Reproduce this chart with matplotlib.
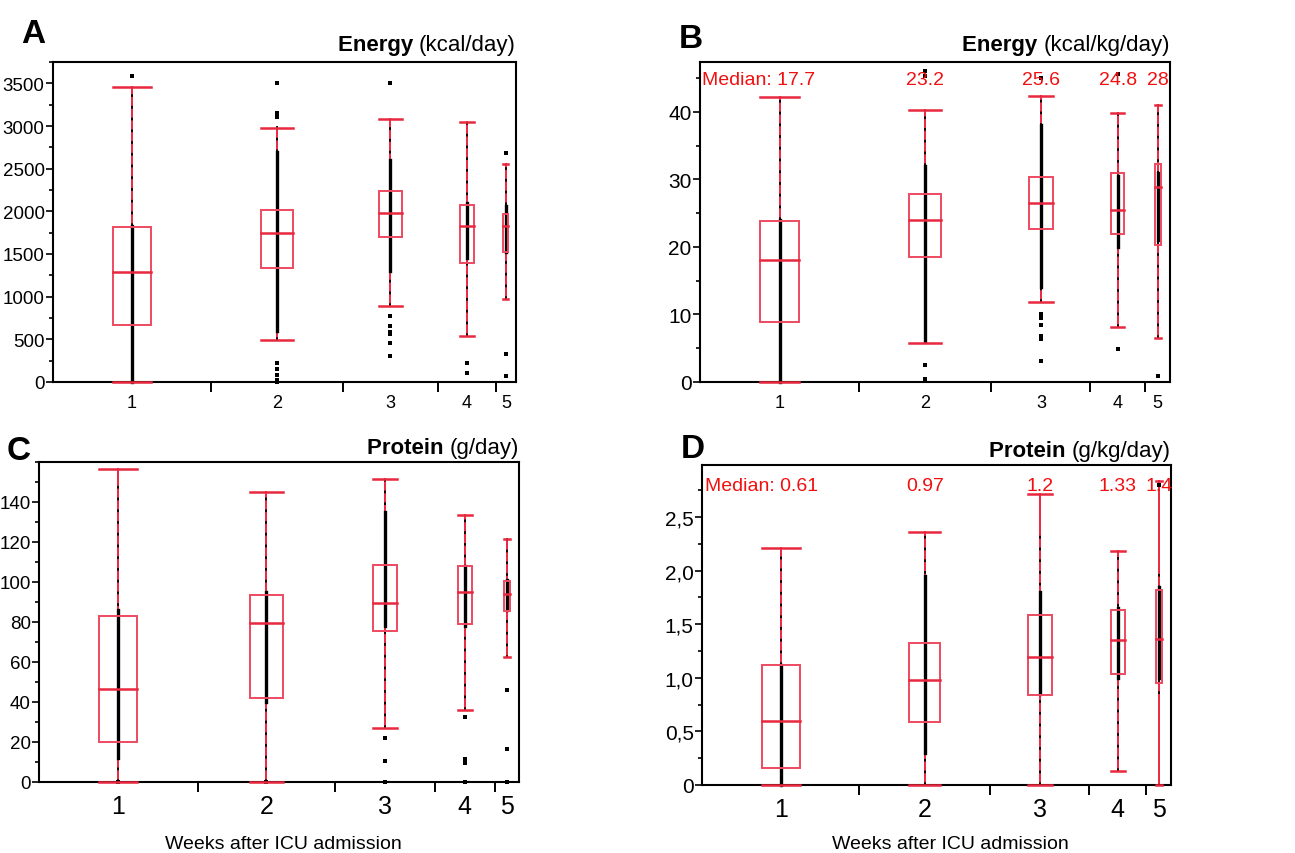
import numpy as np
import matplotlib
matplotlib.use("Agg")
import matplotlib.pyplot as plt
from matplotlib.patches import Rectangle
from matplotlib.ticker import MultipleLocator, FixedLocator

plt.rcParams['font.family'] = ['Liberation Sans', 'DejaVu Sans']

RED = '#E8283F'
BOXRED = '#EE4A60'
TXTRED = '#F01010'

weeks = ['1', '2', '3', '4', '5']

# A: energy, kcal/day
a_n = [163, 137, 98, 60, 21]
a_q1 = [668, 1336, 1695, 1398, 1523]
a_med = [1289, 1742, 1980, 1828, 1828]
a_q3 = [1820, 2012, 2238, 2070, 1965]
a_lo = [0, 492, 891, 539, 969]
a_hi = [3453, 2977, 3078, 3047, 2551]
a_dense = [(0, 1830), (600, 2700), (1300, 2600), (1450, 2100), (1520, 2060)]
a_sparse = [(1830, 3460), (490, 3000), (891, 3080), (540, 3047), (969, 2551)]
a_pts = [[3590], [3500, 3150, 3100, 227, 150, 80, 20, 0],
         [3500, 773, 656, 590, 560, 461, 305], [227, 109], [2680, 324, 70]]

# B: energy, kcal/kg/day
b_n = [154, 128, 96, 53, 24]
b_q1 = [8.9, 18.5, 22.7, 21.9, 20.3]
b_med = [18.1, 24.0, 26.5, 25.5, 28.9]
b_q3 = [23.9, 27.8, 30.4, 31.0, 32.3]
b_lo = [0, 5.8, 11.9, 8.2, 6.5]
b_hi = [42.2, 40.3, 42.4, 39.8, 41.0]
b_dense = [(0, 24), (6, 32), (14, 38), (20, 30.5), (21, 31)]
b_sparse = [(24, 42.2), (32, 40.3), (11.9, 42.4), (8.2, 39.8), (6.5, 41.0)]
b_pts = [[], [46.0, 45.4, 2.5, 0.4], [45.0, 10.0, 9.5, 8.5, 6.8, 6.3, 3.1],
         [45.6, 4.9], [0.9]]
b_lab = ['Median: 17.7', '23.2', '25.6', '24.8', '28']

# C: protein, g/day
c_n = [158, 137, 99, 60, 24]
c_q1 = [19.8, 41.9, 75.6, 78.9, 85.4]
c_med = [46.5, 79.6, 89.5, 95.0, 94.0]
c_q3 = [82.9, 93.5, 108.6, 107.8, 100.5]
c_lo = [0, 0, 27.1, 36.2, 62.4]
c_hi = [156.6, 144.8, 151.6, 133.7, 121.7]
c_dense = [(12, 86), (40, 95), (78, 135), (78, 108), (86, 101)]
c_sparse = [(0, 150), (0, 145), (27, 152), (36, 134), (62, 122)]
c_pts = [[0], [0], [21.9, 10.3, 0], [32.4, 11.6, 9.6, 0], [46.0, 16.3, 0]]

# D: protein, g/kg/day
d_n = [154, 128, 97, 56, 24]
d_q1 = [0.155, 0.588, 0.836, 1.039, 0.955]
d_med = [0.594, 0.979, 1.191, 1.353, 1.359]
d_q3 = [1.119, 1.321, 1.586, 1.636, 1.819]
d_lo = [0, 0, 0, 0.127, 0]
d_hi = [2.208, 2.357, 2.718, 2.180, 2.836]
d_dense = [(0, 1.12), (0.3, 1.95), (0.85, 1.8), (1.0, 1.65), (1.0, 1.85)]
d_sparse = [(1.12, 2.2), (0, 2.36), (0, 2.33), (0.13, 2.18), (0.85, 2.0)]
d_pts = [[], [], [], [], [2.8]]
d_lab = ['Median: 0.61', '0.97', '1.2', '1.33', '1.4']


def panel(ax, n, q1, med, q3, lo, hi, dense, sparse, pts):
    n = np.asarray(n, float)
    edges = np.concatenate([[0], np.cumsum(n)])
    ctr = edges[:-1] + n / 2
    w = 0.24 * n
    for i, x in enumerate(ctr):
        h = w[i] / 2
        ax.plot([x, x], [lo[i], hi[i]], color=RED, lw=1.4, zorder=2, clip_on=False)
        ax.plot([x, x], sparse[i], color='black', lw=1.3, ls=(0, (1.5, 5)), zorder=3)
        ax.plot([x, x], dense[i], color='black', lw=2.4, zorder=3, clip_on=False)
        if pts[i]:
            ax.plot(np.full(len(pts[i]), x), pts[i], 's', ms=2.2, color='black',
                    mew=0, zorder=3, clip_on=False)
        for yv in (lo[i], hi[i]):
            ax.plot([x - h, x + h], [yv, yv], color=RED, lw=1.8, zorder=4, clip_on=False)
        ax.add_patch(Rectangle((x - h, q1[i]), w[i], q3[i] - q1[i], fill=False,
                               ec=BOXRED, lw=1.4, zorder=5))
        ax.plot([x - h, x + h], [med[i], med[i]], color=RED, lw=1.8, zorder=5)
    ax.set_xlim(0, edges[-1])
    ax.set_xticks(ctr)
    ax.set_xticklabels(weeks)
    ax.xaxis.set_minor_locator(FixedLocator(edges[1:-1]))
    ax.tick_params(axis='x', which='major', length=0, pad=9)
    ax.tick_params(axis='x', which='minor', length=7.5, width=1.4)
    ax.tick_params(axis='y', which='major', length=5, width=1.2, pad=1)
    ax.tick_params(axis='y', which='minor', length=3, width=1.2)
    for s in ax.spines.values():
        s.set_linewidth(1.5)
    return ctr


def title(ax, bold, rest, off):
    t = ax.annotate(rest, xy=(1, 1), xycoords='axes fraction', xytext=(0, off),
                    textcoords='offset points', ha='right', va='bottom', fontsize=16)
    ax.annotate(bold + ' ', xy=(0, 0), xycoords=t, ha='right', va='bottom',
                fontsize=16, fontweight='bold')


fig = plt.figure(figsize=(12.95, 8.54), dpi=100)
W, H = 1295, 854


def make_ax(l, t, r, b):
    return fig.add_axes([l / W, 1 - b / H, (r - l) / W, (b - t) / H])


axA = make_ax(53, 63, 516, 383)
axB = make_ax(700, 63, 1170, 383)
axC = make_ax(39, 463, 519, 783)
axD = make_ax(702, 466, 1171, 786)

panel(axA, a_n, a_q1, a_med, a_q3, a_lo, a_hi, a_dense, a_sparse, a_pts)
axA.set_ylim(0, 3750)
axA.yaxis.set_major_locator(FixedLocator(np.arange(0, 3501, 500)))
axA.yaxis.set_minor_locator(MultipleLocator(250))
axA.tick_params(axis='y', labelsize=13.5)
axA.tick_params(axis='x', labelsize=13)
title(axA, 'Energy', '(kcal/day)', 5)

ctrB = panel(axB, b_n, b_q1, b_med, b_q3, b_lo, b_hi, b_dense, b_sparse, b_pts)
axB.set_ylim(0, 47.4)
axB.yaxis.set_major_locator(FixedLocator(np.arange(0, 41, 10)))
axB.yaxis.set_minor_locator(MultipleLocator(5))
axB.tick_params(axis='y', labelsize=15)
axB.tick_params(axis='x', labelsize=13)
title(axB, 'Energy', '(kcal/kg/day)', 5)
for i, lab in enumerate(b_lab):
    if i == 0:
        axB.text(0.005, 0.944, lab, transform=axB.transAxes, ha='left', va='center',
                 color=TXTRED, fontsize=14, zorder=6)
    else:
        axB.text(ctrB[i], 44.75, lab, ha='center', va='center', color=TXTRED,
                 fontsize=14, zorder=6)

panel(axC, c_n, c_q1, c_med, c_q3, c_lo, c_hi, c_dense, c_sparse, c_pts)
axC.set_ylim(0, 160)
axC.yaxis.set_major_locator(FixedLocator(np.arange(0, 141, 20)))
axC.yaxis.set_minor_locator(MultipleLocator(10))
axC.tick_params(axis='y', labelsize=13.5)
axC.tick_params(axis='x', labelsize=18)
title(axC, 'Protein', '(g/day)', 3)

ctrD = panel(axD, d_n, d_q1, d_med, d_q3, d_lo, d_hi, d_dense, d_sparse, d_pts)
axD.set_ylim(0, 2.985)
axD.yaxis.set_major_locator(FixedLocator([0, 0.5, 1.0, 1.5, 2.0, 2.5]))
axD.set_yticklabels(['0', '0,5', '1,0', '1,5', '2,0', '2,5'])
axD.yaxis.set_minor_locator(MultipleLocator(0.25))
axD.tick_params(axis='y', labelsize=15)
axD.tick_params(axis='x', labelsize=18)
title(axD, 'Protein', '(g/kg/day)', 3)
for i, lab in enumerate(d_lab):
    if i == 0:
        axD.text(0.007, 0.936, lab, transform=axD.transAxes, ha='left', va='center',
                 color=TXTRED, fontsize=14, zorder=6)
    else:
        axD.text(ctrD[i], 2.795, lab, ha='center', va='center', color=TXTRED,
                 fontsize=14, zorder=6)

for lab, x, y in [('A', 21, 43), ('B', 679, 48), ('C', 7, 460), ('D', 681, 458)]:
    fig.text(x / W, 1 - y / H, lab, fontsize=24, fontweight='bold',
             ha='left', va='baseline')

fig.text(283 / W, 5 / H, 'Weeks after ICU admission', ha='center', va='baseline', fontsize=14)
fig.text(950 / W, 5 / H, 'Weeks after ICU admission', ha='center', va='baseline', fontsize=14)

fig.savefig('out.png', dpi=100)
